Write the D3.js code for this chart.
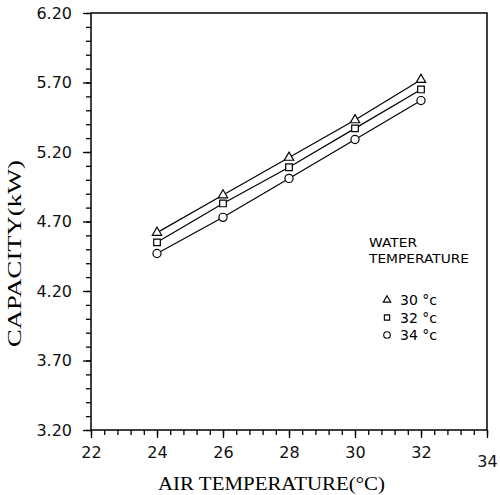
<html>
<head>
<meta charset="utf-8" />
<script src="https://d3js.org/d3.v7.min.js"></script>
<style>
    body { margin: 0px; background: #fff; }
    .domain { display: none; }
    .tick line { stroke: #000; stroke-width: 1.3; }
    .tick text { fill: #111; font-size: 16px; font-family: "DejaVu Sans", sans-serif; }
</style>
</head>
<body>
<script>
// air temperature (C) on x, capacity (kW) on y
var airTemp = [24, 26, 28, 30, 32];
var cap30 = [4.62, 4.89, 5.16, 5.43, 5.72];
var cap32 = [4.55, 4.83, 5.09, 5.37, 5.65];
var cap34 = [4.47, 4.73, 5.01, 5.29, 5.57];
var seriesNames = ["30", "32", "34"];
var xTicks = [22, 24, 26, 28, 30, 32, 34];
var yTicks = [3.2, 3.7, 4.2, 4.7, 5.2, 5.7, 6.2];

var series = [
    {name: seriesNames[0], shape: "triangle", values: cap30},
    {name: seriesNames[1], shape: "square", values: cap32},
    {name: seriesNames[2], shape: "circle", values: cap34}
];

var width = 500, height = 495;
var plot = {left: 91, right: 487, top: 13, bottom: 430};

var svg = d3.select("body").append("svg")
    .attr("width", width)
    .attr("height", height);

var x = d3.scaleLinear().domain([22, 34]).range([plot.left, plot.right]);
var y = d3.scaleLinear().domain([3.2, 6.2]).range([plot.bottom, plot.top]);

// minor ticks
var xMinor = d3.range(22, 34.01, 0.4).map(d => +d.toFixed(1));
var yMinor = d3.range(3.2, 6.21, 0.1).map(d => +d.toFixed(1));

svg.append("g")
    .attr("transform", "translate(0," + plot.bottom + ")")
    .call(d3.axisBottom(x).tickValues(xMinor).tickSize(5).tickFormat(""));
svg.append("g")
    .attr("transform", "translate(" + plot.left + ",0)")
    .call(d3.axisLeft(y).tickValues(yMinor).tickSize(5).tickFormat(""));

var xAxis = svg.append("g")
    .attr("transform", "translate(0," + plot.bottom + ")")
    .call(d3.axisBottom(x).tickValues(xTicks).tickSize(8).tickPadding(9).tickFormat(d3.format("d")));
xAxis.selectAll(".tick text")
    .attr("dy", (d, i) => i == xTicks.length - 1 ? "1.25em" : "0.71em");

svg.append("g")
    .attr("transform", "translate(" + plot.left + ",0)")
    .call(d3.axisLeft(y).tickValues(yTicks).tickSize(8).tickPadding(11).tickFormat(d3.format(".2f")));

// frame
svg.append("rect")
    .attr("x", plot.left).attr("y", plot.top)
    .attr("width", plot.right - plot.left).attr("height", plot.bottom - plot.top)
    .attr("fill", "none").attr("stroke", "#000").attr("stroke-width", 1.5);

// lines
var line = d3.line()
    .x((d, i) => x(airTemp[i]))
    .y(d => y(d));

svg.append("g").selectAll("path")
    .data(series)
    .enter().append("path")
    .attr("d", d => line(d.values))
    .attr("fill", "none")
    .attr("stroke", "#000")
    .attr("stroke-width", 1.2);

var symbols = {
    triangle: d3.symbol().type(d3.symbolTriangle).size(38),
    square: d3.symbol().type(d3.symbolSquare).size(44),
    circle: d3.symbol().type(d3.symbolCircle).size(52)
};
var smallSymbols = {
    triangle: d3.symbol().type(d3.symbolTriangle).size(24),
    square: d3.symbol().type(d3.symbolSquare).size(28),
    circle: d3.symbol().type(d3.symbolCircle).size(34)
};

series.forEach(function(s) {
    svg.append("g").selectAll("path")
        .data(s.values)
        .enter().append("path")
        .attr("d", symbols[s.shape])
        .attr("transform", (d, i) => "translate(" + x(airTemp[i]) + "," + y(d) + ")")
        .attr("fill", "#fff")
        .attr("stroke", "#000")
        .attr("stroke-width", 1.2);
});

// axis titles
svg.append("text")
    .attr("x", 158).attr("y", 490)
    .attr("textLength", 227).attr("lengthAdjust", "spacingAndGlyphs")
    .style("font-family", "'Liberation Serif', serif").style("font-size", "19px")
    .text("AIR TEMPERATURE(\u00B0C)");

svg.append("text")
    .attr("transform", "translate(21,347) rotate(-90)")
    .attr("textLength", 187).attr("lengthAdjust", "spacingAndGlyphs")
    .style("font-family", "'Liberation Serif', serif").style("font-size", "19px")
    .text("CAPACITY(kW)");

// legend
var legend = svg.append("g").style("font-family", "'DejaVu Sans', sans-serif");
legend.append("text").attr("x", 369).attr("y", 247)
    .attr("textLength", 48).attr("lengthAdjust", "spacingAndGlyphs")
    .style("font-size", "12px").text("WATER");
legend.append("text").attr("x", 369).attr("y", 263)
    .attr("textLength", 100).attr("lengthAdjust", "spacingAndGlyphs")
    .style("font-size", "12px").text("TEMPERATURE");

var items = legend.selectAll("g.item")
    .data(series)
    .enter().append("g")
    .attr("transform", (d, i) => "translate(387," + (300 + i * 17.5) + ")");
items.append("path")
    .attr("d", d => smallSymbols[d.shape]())
    .attr("fill", "#fff").attr("stroke", "#000").attr("stroke-width", 1.1);
items.append("text")
    .attr("x", 13).attr("y", 5)
    .style("font-size", "14px")
    .text(d => d.name + " \u00B0c");
</script>
</body>
</html>
